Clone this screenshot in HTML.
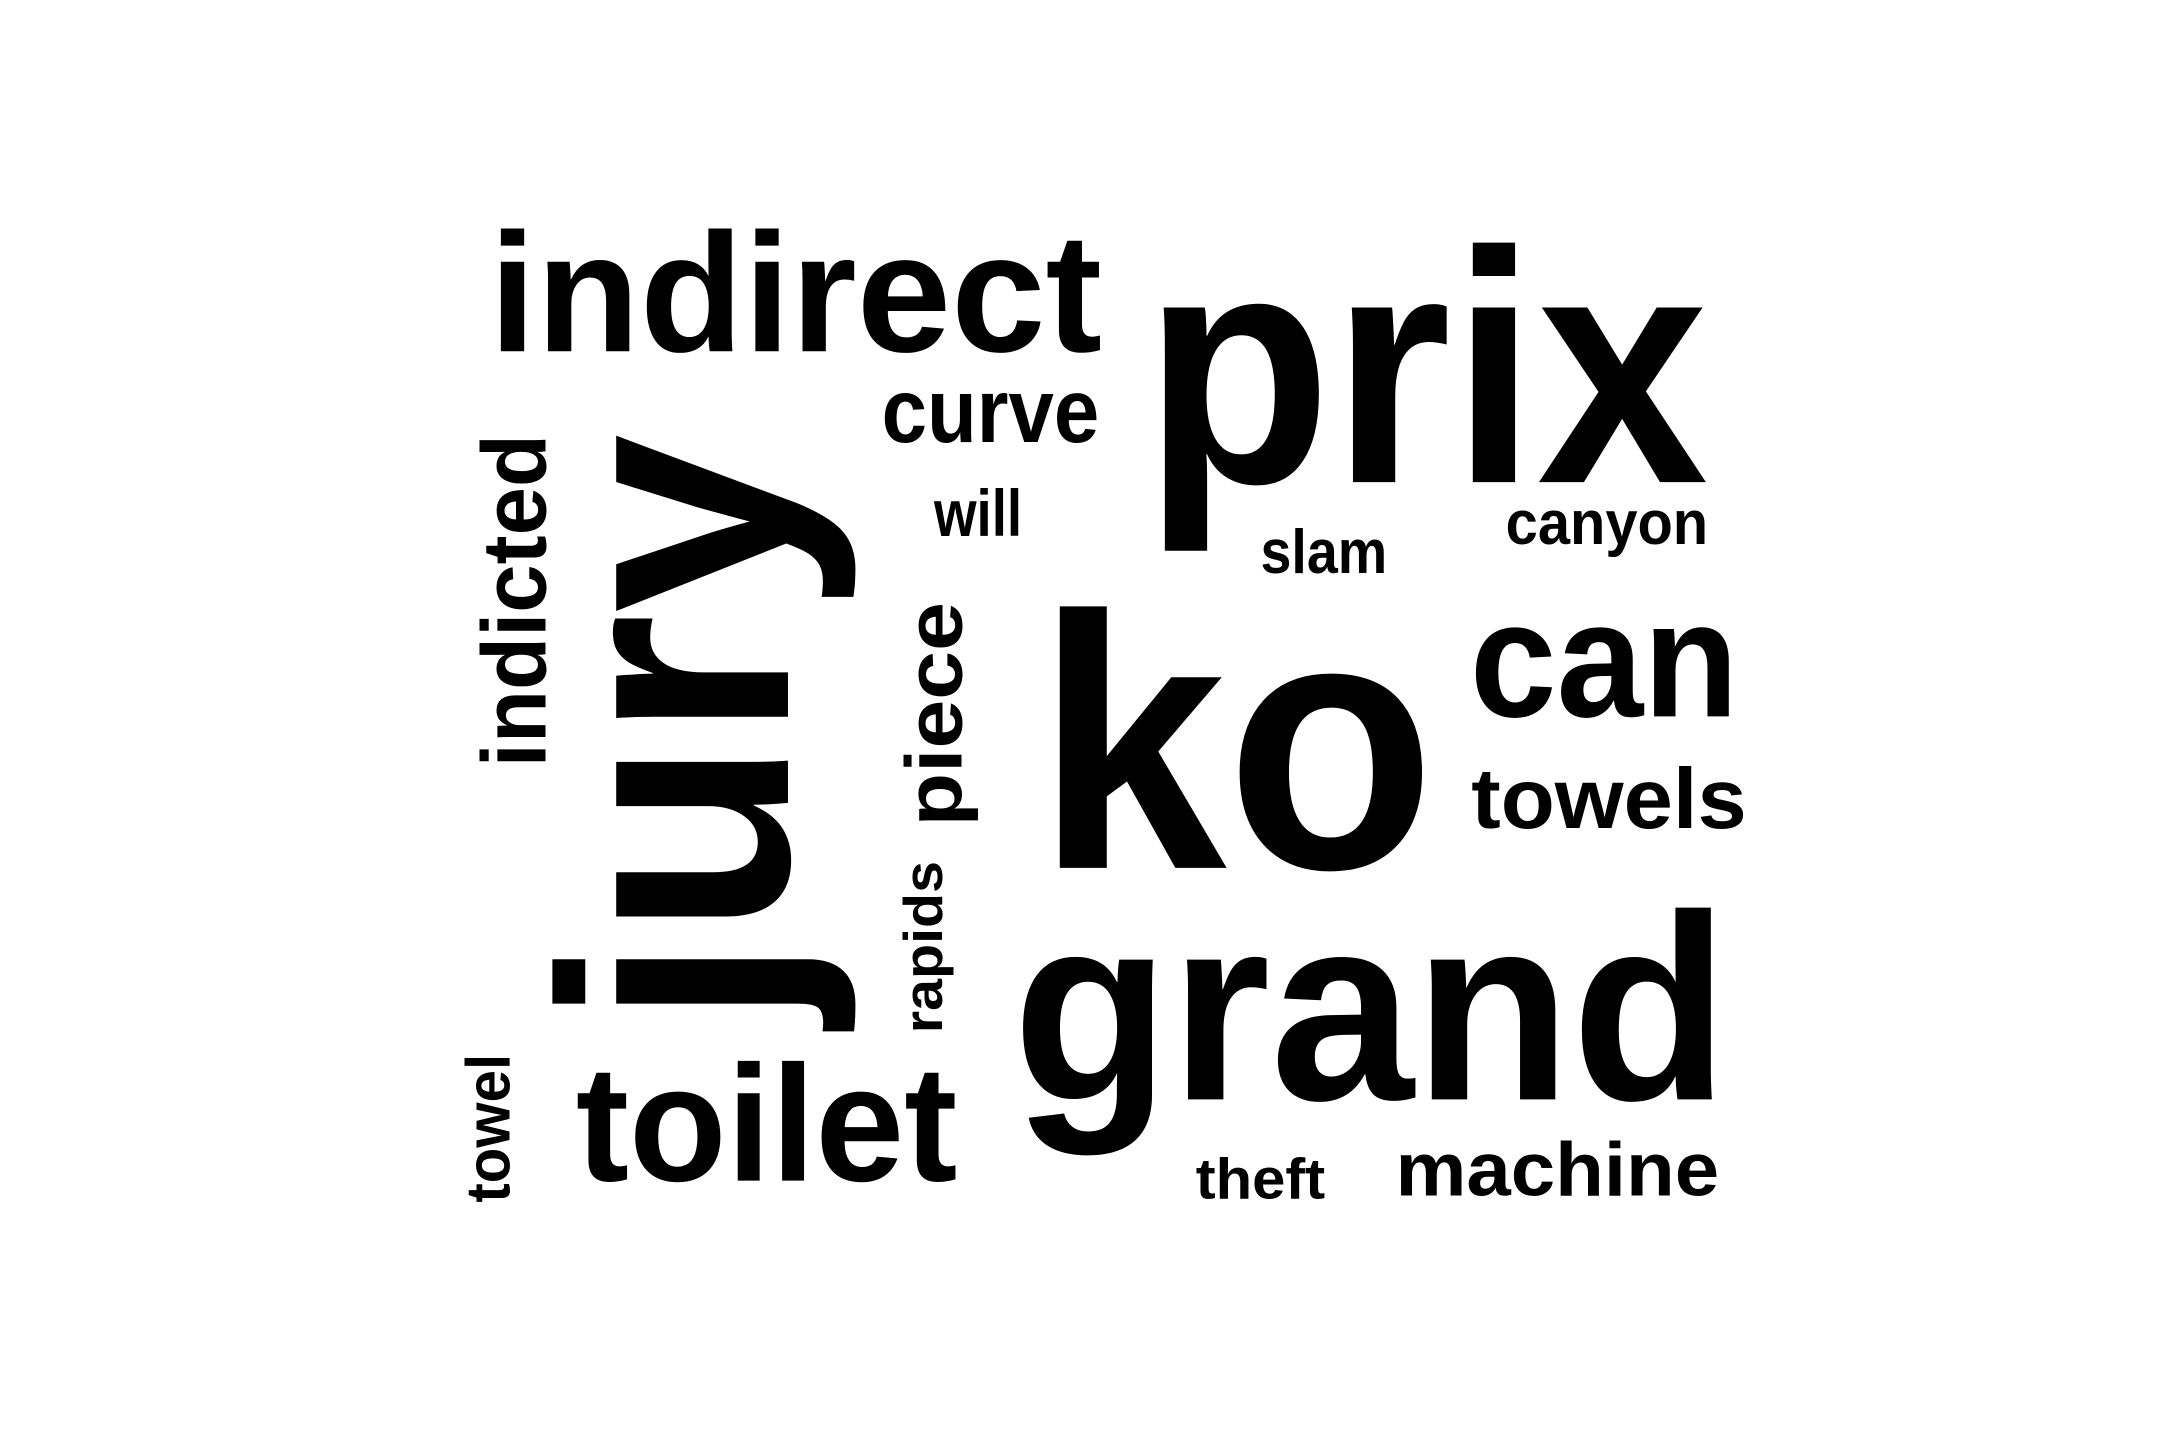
<!DOCTYPE html>
<html>
<head>
<meta charset="utf-8">
<style>
  html, body { margin: 0; padding: 0; background: #ffffff; }
  body { width: 2160px; height: 1440px; overflow: hidden; }
  svg { display: block; }
  text { font-family: "Liberation Sans", "DejaVu Sans", sans-serif; font-weight: bold; fill: #000; }
</style>
</head>
<body>
<svg id="cloud" width="2160" height="1440" viewBox="0 0 1568 1045.3" preserveAspectRatio="none" xmlns="http://www.w3.org/2000/svg">
  <rect x="0" y="0" width="1568" height="1045.3" fill="#ffffff"></rect>
  <g id="words"></g>
</svg>
<script>
// data
const words = ["indirect","prix","curve","will","slam","canyon","can","towels","ko","grand","theft","machine","toilet","towel","indicted","jury","piece","rapids"];
const weights = [123, 240, 66, 48, 45, 45, 120, 62, 262, 192, 42, 55, 120, 45, 66, 236, 58, 40];
const rotated = [false,false,false,false,false,false,false,false,false,false,false,false,false,true,true,true,true,true];
// layout (word-cloud placement)
const layout = [
  [355, 255, 445], [830, 350, 410], [640, 321, 158], [678, 389, 64], [915, 416, 92],
  [1093, 395, 147], [1067, 520, 195], [1068, 601, 200], [752, 630, 290], [735, 798, 520],
  [868, 870, 94], [1013, 868, 235], [418, 857, 277], [370, 873, 108], [396, 557, 242],
  [572, 745, 430], [698, 600, 163], [684, 750, 125]
];
const g = document.getElementById('words');
const NS = 'http://www.w3.org/2000/svg';
words.forEach((w, i) => {
  const t = document.createElementNS(NS, 'text');
  const [x, y, len] = layout[i];
  t.setAttribute('font-size', weights[i]);
  t.setAttribute('textLength', len);
  t.setAttribute('lengthAdjust', 'spacingAndGlyphs');
  if (rotated[i]) {
    t.setAttribute('x', 0);
    t.setAttribute('y', 0);
    t.setAttribute('transform', 'translate(' + x + ',' + y + ') rotate(-90)');
  } else {
    t.setAttribute('x', x);
    t.setAttribute('y', y);
  }
  t.textContent = w;
  
  
  g.appendChild(t);
});
</script>
</body>
</html>
